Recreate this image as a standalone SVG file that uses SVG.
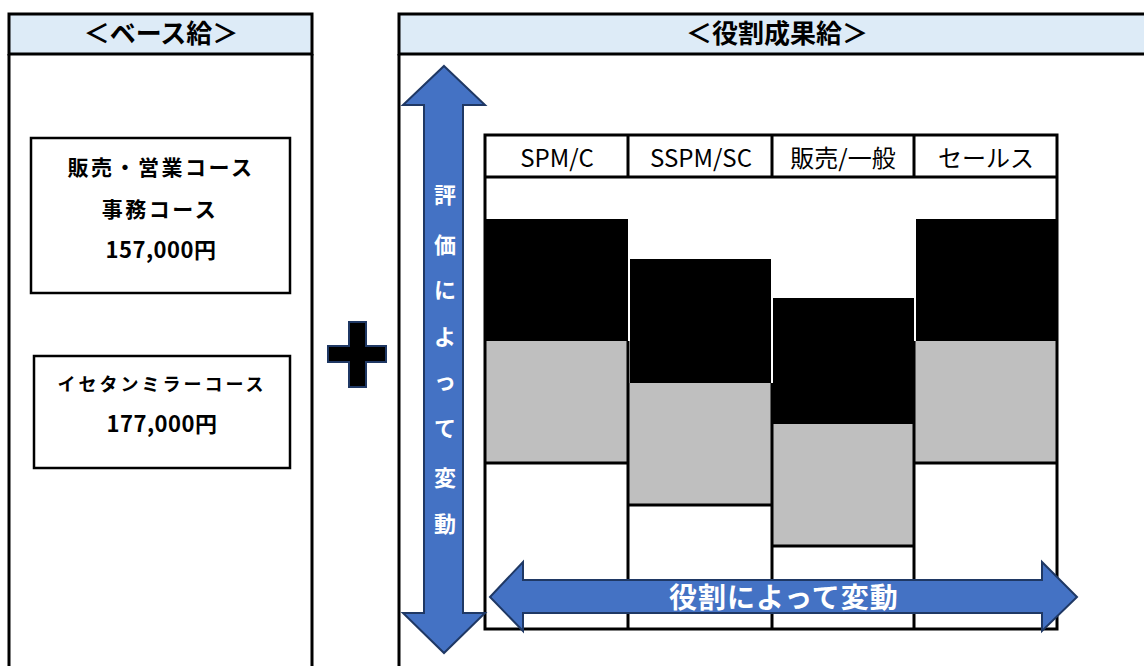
<svg xmlns="http://www.w3.org/2000/svg" width="1144" height="666" viewBox="0 0 1144 666">
  <style>
    .jp { font-family: "Noto Sans CJK JP", "Noto Sans", sans-serif; }
    .title { font-size: 26px; font-weight: bold; fill: #000; text-anchor: middle; }
    .boxtext { font-size: 21px; font-weight: bold; fill: #000; text-anchor: middle; letter-spacing: 2.5px; }
    .num { font-size: 22px; letter-spacing: 0.5px; }
    .small { font-size: 18px; letter-spacing: 3px; }
    .colhead { font-size: 24px; fill: #000; text-anchor: middle; }
    .white { fill: #fff; font-weight: bold; text-anchor: middle; }
    .frame { fill: none; stroke: #000; stroke-width: 3; }
    .head { fill: #DDEBF7; stroke: #000; stroke-width: 3; }
    .box { fill: #fff; stroke: #000; stroke-width: 2.5; }
    .arrow { fill: #4472C4; stroke: #1F3864; stroke-width: 2; }
    .blk { fill: #000; }
    .gry { fill: #BFBFBF; }
    .ln { stroke: #000; stroke-width: 3; fill: none; }
  </style>

  <rect x="0" y="0" width="1144" height="666" fill="#fff"/>

  <!-- Base pay panel -->
  <g id="base-panel">
    <rect x="9" y="14" width="303" height="40" class="head"/>
    <path d="M9 54 V680 M312 54 V680" class="ln"/>
    <text x="161" y="43" class="jp title">＜ベース給＞</text>
  </g>

  <g id="course-sales">
    <rect x="31" y="138" width="259" height="155" class="box"/>
    <text x="161" y="175" class="jp boxtext">販売・営業コース</text>
    <text x="160" y="217" class="jp boxtext">事務コース</text>
    <text x="161" y="258" class="jp boxtext num">157,000円</text>
  </g>

  <g id="course-mirror">
    <rect x="34" y="356" width="256" height="112" class="box"/>
    <text x="162" y="391" class="jp boxtext small">イセタンミラーコース</text>
    <text x="162" y="432" class="jp boxtext num">177,000円</text>
  </g>

  <!-- Plus sign -->
  <g id="plus">
    <polygon points="349,322 366,322 366,346 386,346 386,362 366,362 366,387 349,387 349,362 328,362 328,346 349,346" fill="#000" stroke="#1F3864" stroke-width="2"/>
  </g>

  <!-- Role pay panel -->
  <g id="role-panel">
    <rect x="399" y="14" width="760" height="40" class="head"/>
    <path d="M399 54 V680" class="ln"/>
    <text x="777" y="43" class="jp title">＜役割成果給＞</text>
  </g>

  <!-- Table -->
  <g id="table">
    <!-- black bands -->
    <rect x="485" y="219" width="143" height="122" class="blk"/>
    <rect x="630" y="259" width="141" height="124" class="blk"/>
    <rect x="773" y="298" width="141" height="126" class="blk"/>
    <rect x="916" y="219" width="141" height="122" class="blk"/>
    <!-- gray bands -->
    <rect x="485" y="341" width="143" height="122" class="gry"/>
    <rect x="628" y="383" width="144" height="122" class="gry"/>
    <rect x="772" y="424" width="142" height="122" class="gry"/>
    <rect x="914" y="341" width="143" height="122" class="gry"/>
    <!-- grid lines -->
    <path d="M485 463 H628 M628 505 H772 M772 546 H914 M914 463 H1057" class="ln"/>
    <path d="M628 341 V630 M772 383 V630 M914 341 V630" class="ln"/>
    <path d="M628 135 V177 M772 135 V177 M914 135 V177 M485 177 H1057" class="ln"/>
    <rect x="485" y="135" width="572" height="494" class="frame"/>
    <text x="557" y="167" class="jp colhead">SPM/C</text>
    <text x="701" y="167" class="jp colhead">SSPM/SC</text>
    <text x="843" y="167" class="jp colhead">販売/一般</text>
    <text x="986" y="167" class="jp colhead">セールス</text>
  </g>

  <!-- Arrows -->
  <g id="connectors">
    <g id="arrow-vertical">
      <polygon points="444,66 485,105 463,105 463,613 485,613 444,653 403,613 424,613 424,105 403,105" class="arrow"/>
      <g class="jp white" font-size="22">
        <text x="445" y="203">評</text>
        <text x="445" y="253">価</text>
        <text x="445" y="298">に</text>
        <text x="445" y="345">よ</text>
        <text x="445" y="389">っ</text>
        <text x="445" y="436">て</text>
        <text x="445" y="486">変</text>
        <text x="445" y="532">動</text>
      </g>
    </g>
    <g id="arrow-horizontal">
      <polygon points="490,597 523,562 523,580 1042,580 1042,562 1077,597 1042,631 1042,613 523,613 523,631" class="arrow"/>
      <text x="784" y="608" class="jp white" font-size="28" letter-spacing="1">役割によって変動</text>
    </g>
  </g>
</svg>
